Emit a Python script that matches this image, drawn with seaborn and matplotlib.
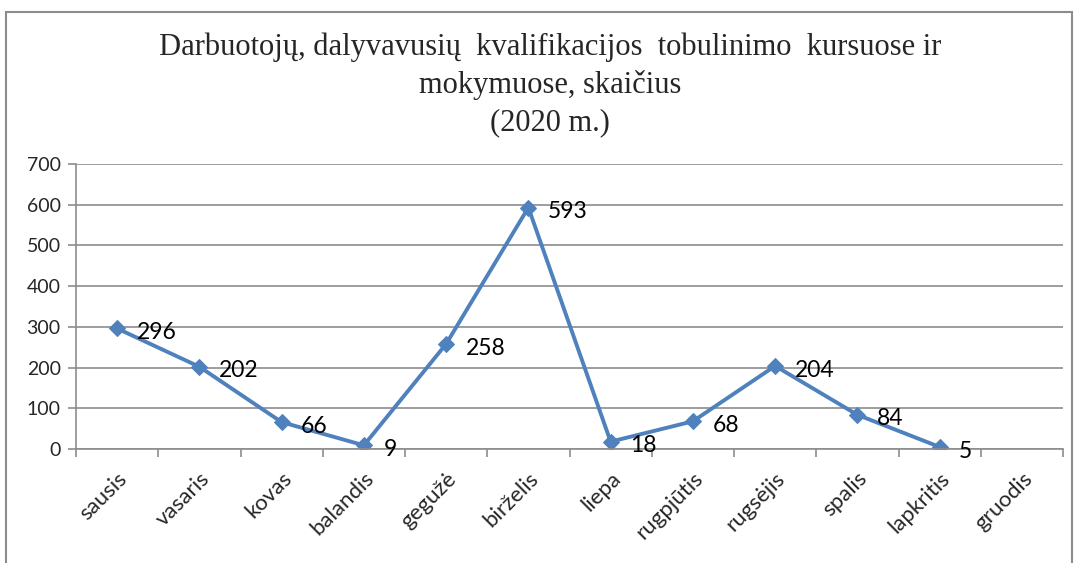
import numpy as np
import pandas as pd
import matplotlib
matplotlib.use("Agg")
import matplotlib.pyplot as plt
from matplotlib.patches import Rectangle
from matplotlib.ticker import MultipleLocator, FixedLocator
import seaborn as sns

months = ["sausis", "vasaris", "kovas", "balandis", "gegužė", "birželis",
          "liepa", "rugpjūtis", "rugsėjis", "spalis", "lapkritis", "gruodis"]
values = [296, 202, 66, 9, 258, 593, 18, 68, 204, 84, 5, np.nan]
title = "Darbuotojų, dalyvavusių  kvalifikacijos  tobulinimo  kursuose ir\nmokymuose, skaičius\n(2020 m.)"

sns.set_theme(style="white")
plt.rcParams['font.family'] = ['Lato', 'DejaVu Sans']

df = pd.DataFrame({"pos": np.arange(len(months)), "value": values})

fig = plt.figure(figsize=(10.75, 5.63), dpi=100)
ax = fig.add_axes([76/1075, 1-449/563, (1063-76)/1075, (449-164)/563])

line_color = "#4F81BD"
sns.lineplot(data=df, x="pos", y="value", ax=ax, color=line_color,
             linewidth=2.8, marker="D", markersize=8.5, markeredgecolor=line_color,
             markerfacecolor=line_color)

ax.set_xlim(-0.5, len(months) - 0.5)
ax.set_ylim(0, 700)
ax.yaxis.set_major_locator(MultipleLocator(100))
ax.grid(axis="y", color="#8c8c8c", linewidth=1.2)
ax.set_axisbelow(True)

ax.set_xticks(np.arange(len(months)))
ax.set_xticklabels(months, rotation=45, ha="right", rotation_mode="anchor", fontsize=16)
ax.tick_params(axis="x", which="major", length=0, pad=14)
ax.xaxis.set_minor_locator(FixedLocator(np.arange(-0.5, len(months), 1.0)))
ax.tick_params(axis="x", which="minor", length=6, color="#8c8c8c", width=1.2, direction="out", bottom=True)
ax.tick_params(axis="y", length=6, color="#8c8c8c", width=1.2, direction="out", left=True, labelsize=14, pad=5)
ax.set_xlabel("")
ax.set_ylabel("")

for side in ["top", "right"]:
    ax.spines[side].set_visible(False)
for side in ["left", "bottom"]:
    ax.spines[side].set_color("#8c8c8c")
    ax.spines[side].set_linewidth(1.2)

for x, v in zip(df["pos"], df["value"]):
    if not np.isnan(v):
        ax.annotate(f"{int(v)}", (x, v), xytext=(14, -3), textcoords="offset points",
                    ha="left", va="center", fontsize=16.5, color="black")

fig.text(550/1075, 1-85/563, title, ha="center", va="center", multialignment="center",
         fontsize=22, family="Liberation Serif", linespacing=1.35)

fig.patches.append(Rectangle((6/1075, -0.05), (1072-6)/1075, 1-12/563+0.05,
                             transform=fig.transFigure, fill=False,
                             edgecolor="#8c8c8c", linewidth=1.5))

fig.savefig("out.png", dpi=100)
